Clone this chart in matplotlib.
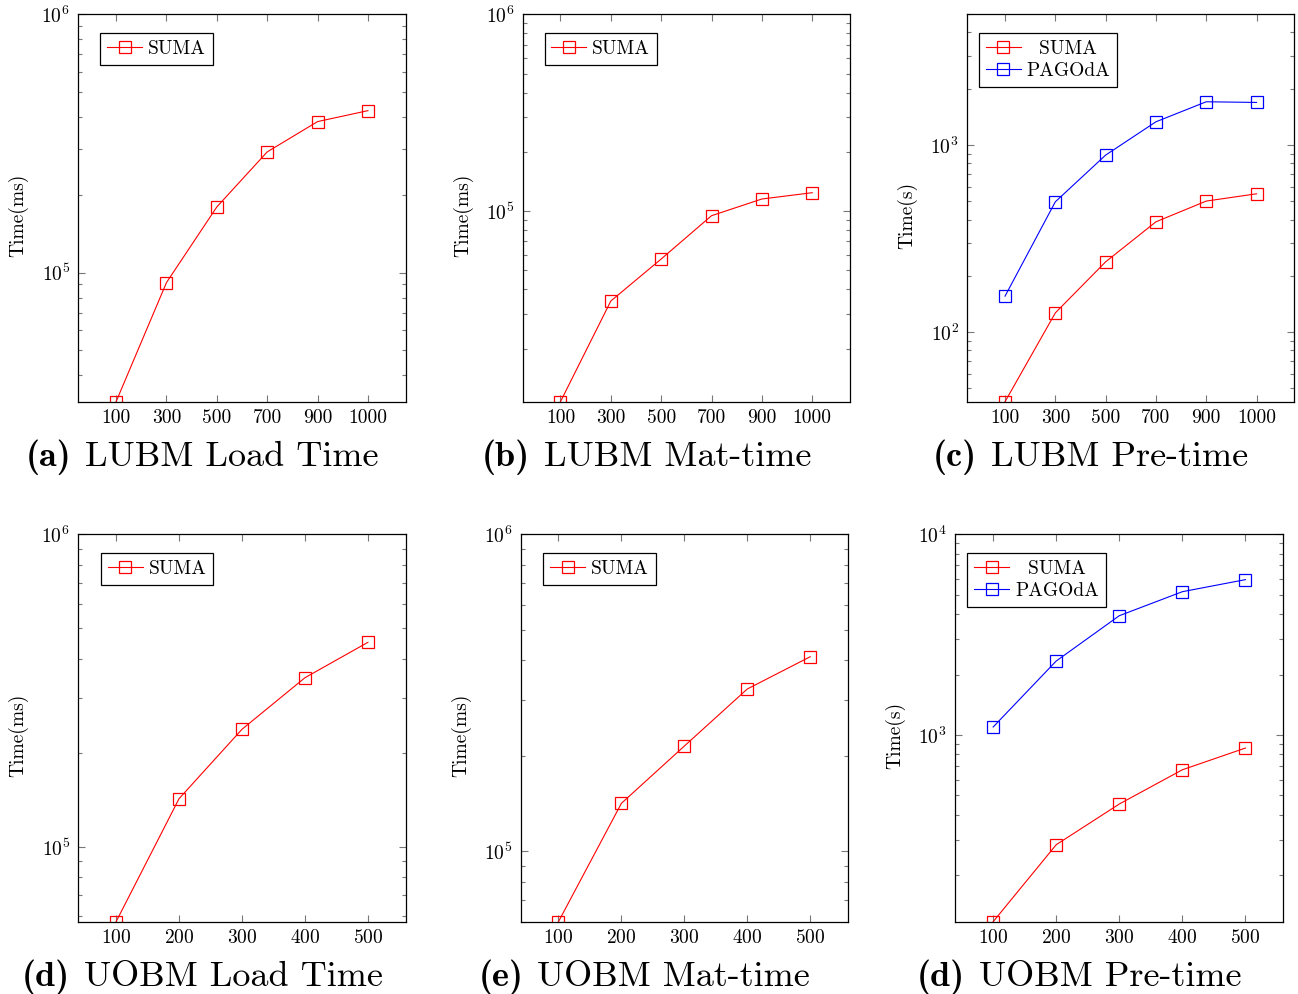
import matplotlib
matplotlib.use("Agg")
import matplotlib.pyplot as plt
from matplotlib.ticker import NullFormatter, LogLocator

plt.rcParams['font.family'] = ['cmr10', 'DejaVu Serif']
plt.rcParams['mathtext.fontset'] = 'cm'
plt.rcParams['axes.formatter.use_mathtext'] = True
plt.rcParams['axes.unicode_minus'] = False

# LUBM data (x labels are spaced evenly, 900 -> 1000 same gap as the rest)
lubm_sizes = ["100", "300", "500", "700", "900", "1000"]
lubm_load_suma = [31660, 91500, 179600, 293300, 384300, 423700]
lubm_mat_suma = [10730, 34870, 57020, 94650, 115100, 123900]
lubm_pre_suma = [42.5, 126.8, 237.7, 389, 502, 549]
lubm_pre_pagoda = [155.8, 497.6, 884, 1332, 1704, 1690]

# UOBM data
uobm_sizes = [100, 200, 300, 400, 500]
uobm_load_suma = [57680, 142700, 237900, 347800, 451400]
uobm_mat_suma = [59970, 141700, 214800, 325100, 411000]
uobm_pre_suma = [117.4, 284, 453, 671, 861]
uobm_pre_pagoda = [1096, 2337, 3930, 5176, 5945]

captions = ["(a)", "(b)", "(c)", "(d)", "(e)", "(d)"]
caption_texts = ["LUBM Load Time", "LUBM Mat-time", "LUBM Pre-time",
                 "UOBM Load Time", "UOBM Mat-time", "UOBM Pre-time"]

W, H = 1298, 994
fig = plt.figure(figsize=(W / 100, H / 100), dpi=100)

# axes boxes in pixels: left, right, top, bottom
boxes = [
    (78.3, 405.7, 14.3, 401.7),
    (522.7, 850.0, 14.3, 401.7),
    (967.3, 1294.3, 14.3, 401.7),
    (78.3, 405.7, 534.3, 921.7),
    (520.7, 848.0, 534.3, 921.7),
    (955.3, 1283.3, 534.3, 921.7),
]

FS = 14


def make_axes(box):
    l, r, t, b = box
    return fig.add_axes([l / W, 1 - b / H, (r - l) / W, (b - t) / H])


def style_axes(ax, ytop, ymin, ylabel):
    ax.set_yscale('log')
    ax.set_ylim(ymin, ytop)
    ax.yaxis.set_minor_locator(LogLocator(base=10, subs=range(2, 10), numticks=20))
    ax.yaxis.set_minor_formatter(NullFormatter())
    ax.tick_params(which='both', direction='in', top=True, right=True,
                   color='#777777', labelsize=FS)
    ax.tick_params(axis='x', pad=5)
    ax.tick_params(axis='y', pad=6)
    ax.tick_params(which='major', length=5, width=0.8)
    ax.tick_params(which='minor', length=3, width=0.8)
    for s in ax.spines.values():
        s.set_linewidth(0.9)
    ax.set_ylabel(ylabel, fontsize=FS)
    ax.yaxis.set_label_coords(-0.152, 0.482)


def add_legend(ax, x):
    leg = ax.legend(loc='upper left', bbox_to_anchor=(x, 0.951), borderaxespad=0,
                    fontsize=FS, fancybox=False, framealpha=1, edgecolor='black',
                    handlelength=1.8, handletextpad=0.3, borderpad=0.35,
                    labelspacing=0.2)
    leg.get_frame().set_linewidth(0.9)
    return leg


line_kw = dict(lw=0.8, marker='s', ms=8, mfc='none', mew=0.9)
colors = ['red', 'blue']

# ---- top row: LUBM ----
lubm_series = [
    ([lubm_load_suma], ["SUMA"], 1e6, "Time(ms)"),
    ([lubm_mat_suma], ["SUMA"], 1e6, "Time(ms)"),
    ([lubm_pre_suma, lubm_pre_pagoda], ["  SUMA", "PAGOdA"], 5000, "Time(s)"),
]
xpos = list(range(len(lubm_sizes)))
for i, (series, labels, ytop, ylabel) in enumerate(lubm_series):
    ax = make_axes(boxes[i])
    for j, vals in enumerate(series):
        ax.plot(xpos, vals, color=colors[j], label=labels[j], **line_kw)
    ymin = min(min(v) for v in series)
    style_axes(ax, ytop, ymin, ylabel)
    ax.set_xticks(xpos)
    ax.set_xticklabels(lubm_sizes)
    ax.set_xlim(-0.75, len(lubm_sizes) - 0.25)
    add_legend(ax, 0.035 if len(series) > 1 else 0.067)

# ---- bottom row: UOBM ----
uobm_series = [
    ([uobm_load_suma], ["SUMA"], 1e6, "Time(ms)"),
    ([uobm_mat_suma], ["SUMA"], 1e6, "Time(ms)"),
    ([uobm_pre_suma, uobm_pre_pagoda], ["  SUMA", "PAGOdA"], 1e4, "Time(s)"),
]
for i, (series, labels, ytop, ylabel) in enumerate(uobm_series):
    ax = make_axes(boxes[3 + i])
    for j, vals in enumerate(series):
        ax.plot(uobm_sizes, vals, color=colors[j], label=labels[j], **line_kw)
    ymin = min(min(v) for v in series)
    style_axes(ax, ytop, ymin, ylabel)
    ax.set_xticks(uobm_sizes)
    ax.set_xlim(40, 560)
    add_legend(ax, 0.037 if len(series) > 1 else 0.069)

# captions: bold "(x)" + roman text, centred as a whole under the panel
renderer = fig.canvas.get_renderer()
CAP = 26
gap = 14
for i, box in enumerate(boxes):
    l, r, t, b = box
    cx = (l + r) / 2 - 40
    cy = b + 64
    tb = fig.text(0, 0, captions[i], fontsize=CAP, family='cmb10', va='baseline')
    tr = fig.text(0, 0, caption_texts[i], fontsize=CAP, va='baseline')
    wb = tb.get_window_extent(renderer).width
    wr = tr.get_window_extent(renderer).width
    x0 = cx - (wb + gap + wr) / 2
    tb.set_position((x0 / W, 1 - cy / H))
    tr.set_position(((x0 + wb + gap) / W, 1 - cy / H))

fig.savefig("out.png", dpi=100)
